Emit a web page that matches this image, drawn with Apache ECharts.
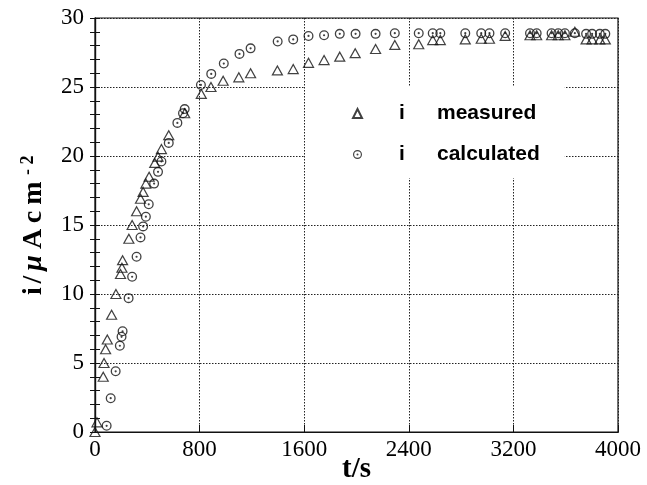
<!DOCTYPE html>
<html><head><meta charset="utf-8">
<script src="https://cdn.jsdelivr.net/npm/echarts@6/dist/echarts.min.js"></script>
<style>html,body{margin:0;padding:0;background:#fff}#c{width:647px;height:485px}</style>
</head><body><div id="c"></div>
<script>
// ---- data ----
const tMeasured = [0,15,63,69,81,94,127,160,195,206,211,259,284,318,348,368,389,414,457,482,508,564,686,813,887,980,1100,1190,1395,1516,1633,1752,1872,1990,2146,2293,2476,2583,2641,2832,2954,3017,3137,3327,3378,3492,3543,3594,3670,3756,3802,3861,3903];
const iMeasured = [0,0.7,4.0,5.0,6.0,6.7,8.5,10.0,11.45,11.9,12.45,14.0,15.0,16.0,16.9,17.4,18.0,18.5,19.5,19.95,20.5,21.5,23.1,24.5,25.0,25.45,25.7,26.0,26.2,26.3,26.75,26.95,27.2,27.45,27.75,28.05,28.1,28.4,28.4,28.45,28.5,28.5,28.7,28.75,28.75,28.75,28.75,28.75,29.0,28.45,28.45,28.45,28.45];
const tCalc = [89,120,158,190,203,211,257,284,318,348,368,389,411,452,482,508,564,630,673,686,810,889,985,1105,1190,1397,1516,1633,1752,1872,1993,2146,2293,2476,2583,2641,2832,2954,3017,3137,3327,3378,3492,3543,3594,3670,3756,3802,3861,3903];
const iCalc = [0.45,2.45,4.4,6.25,6.9,7.3,9.7,11.25,12.7,14.1,14.9,15.6,16.5,18.0,18.85,19.6,20.95,22.4,23.1,23.4,25.15,25.95,26.7,27.4,27.8,28.3,28.45,28.7,28.75,28.85,28.85,28.85,28.9,28.9,28.9,28.9,28.9,28.9,28.9,28.9,28.9,28.9,28.9,28.9,28.9,28.9,28.85,28.85,28.85,28.85];
const seriesNames = ['measured','calculated'];
const xRange = [0, 4000], xStep = 800;
const yRange = [0, 30], yStep = 5;

const measured = tMeasured.map((t,k)=>[t,iMeasured[k]]);
const calculated = tCalc.map((t,k)=>[t,iCalc[k]]);

const serif = 'Liberation Serif, DejaVu Serif, serif';
const sans = 'Liberation Sans, Arial, sans-serif';
const dotCircle = 'path://M0,-10A10,10 0 1,1 0,10A10,10 0 1,1 0,-10Z M0,-7.4A7.4,7.4 0 1,0 0,7.4A7.4,7.4 0 1,0 0,-7.4Z M0,-2.2A2.2,2.2 0 1,1 0,2.2A2.2,2.2 0 1,1 0,-2.2Z';

const chart = echarts.init(document.getElementById('c'), null, {renderer:'canvas'});
const dotted = {show:true, lineStyle:{color:'#222', type:[1.5,1.5], width:1}};
const yName = {fontFamily:serif, fontWeight:'bold', fontSize:28, color:'#000', align:'center', lineHeight:30};
chart.setOption({
  animation:false,
  backgroundColor:'#fff',
  grid:{left:95, right:29, top:18, bottom:53, outerBoundsMode:'none', containLabel:false,
        show:true, borderColor:'#111', borderWidth:1.2, backgroundColor:'transparent'},
  xAxis:[{
    type:'value', min:xRange[0], max:xRange[1], interval:xStep,
    name:'t/s', nameLocation:'middle', nameGap:23, nameMoveOverlap:false,
    nameTextStyle:{fontFamily:serif, fontWeight:'bold', fontSize:29, color:'#000'},
    axisLine:{show:true, lineStyle:{color:'#111', width:1.2}},
    axisTick:{show:true, inside:true, length:7, lineStyle:{color:'#111'}},
    axisLabel:{fontFamily:serif, fontSize:23, color:'#000', margin:6, formatter:function(v){return String(v);}},
    splitLine:dotted
  },{
    type:'value', position:'top', min:xRange[0], max:xRange[1], interval:xStep,
    axisLine:{show:true, lineStyle:{color:'#111', width:1.2}}, axisTick:{show:false}, axisLabel:{show:false}, splitLine:{show:false}
  }],
  yAxis:[{
    type:'value', min:yRange[0], max:yRange[1], interval:yStep,
    name:'{i|i}{sl|/}{mu|μ}{A|A}{c|c}{m|m}{d|-}{t|2}', nameLocation:'middle', nameGap:46, nameRotate:90, nameMoveOverlap:false,
    nameTextStyle:{fontFamily:serif, fontWeight:'bold', fontSize:28, color:'#000',
      rich:{
        i:Object.assign({}, yName, {width:11}),
        sl:Object.assign({}, yName, {width:12}),
        mu:Object.assign({}, yName, {width:21, fontStyle:'italic'}),
        A:Object.assign({}, yName, {width:27}),
        c:Object.assign({}, yName, {width:17}),
        m:Object.assign({}, yName, {width:31}),
        d:{fontFamily:serif, fontWeight:'bold', fontSize:18, color:'#000', width:11, align:'center', lineHeight:20, verticalAlign:'top'},
        t:{fontFamily:serif, fontWeight:'bold', fontSize:18, color:'#000', width:13, align:'center', lineHeight:20, verticalAlign:'top'}
      }},
    axisLine:{show:true, lineStyle:{color:'#111', width:1.2}},
    axisTick:{show:true, inside:true, length:5, lineStyle:{color:'#111'}},
    minorTick:{show:true, splitNumber:5, length:5, lineStyle:{color:'#111'}},
    axisLabel:{fontFamily:serif, fontSize:23, color:'#000', margin:11},
    splitLine:dotted
  },{
    type:'value', position:'right', min:yRange[0], max:yRange[1], interval:yStep,
    axisLine:{show:true, lineStyle:{color:'#111', width:1.2}},
    axisTick:{show:true, inside:true, length:5, lineStyle:{color:'#111'}},
    minorTick:{show:true, splitNumber:5, length:5, lineStyle:{color:'#111'}},
    axisLabel:{show:false}, splitLine:{show:false}
  }],
  legend:{
    data:seriesNames, orient:'vertical', left:305, top:86,
    backgroundColor:'#fff', padding:[17,25,13,47],
    itemWidth:9, itemHeight:9, itemGap:20, selectedMode:false,
    formatter:function(n){return '{i|i}{t|'+n+'}';},
    textStyle:{rich:{
      i:{fontFamily:sans, fontWeight:'bold', fontSize:21, color:'#000', width:70, align:'center', lineHeight:20},
      t:{fontFamily:sans, fontWeight:'bold', fontSize:21, color:'#000', lineHeight:20}
    }}
  },
  series:[{
    name:seriesNames[0], type:'scatter', data:measured, z:3,
    symbol:'triangle', symbolSize:[10,9],
    itemStyle:{color:'rgba(255,255,255,0)', borderColor:'#111', borderWidth:1.2}
  },{
    name:seriesNames[1], type:'scatter', data:calculated, z:4,
    symbol:dotCircle, symbolSize:10,
    itemStyle:{color:'#111'}
  }]
});
</script>
</body></html>
